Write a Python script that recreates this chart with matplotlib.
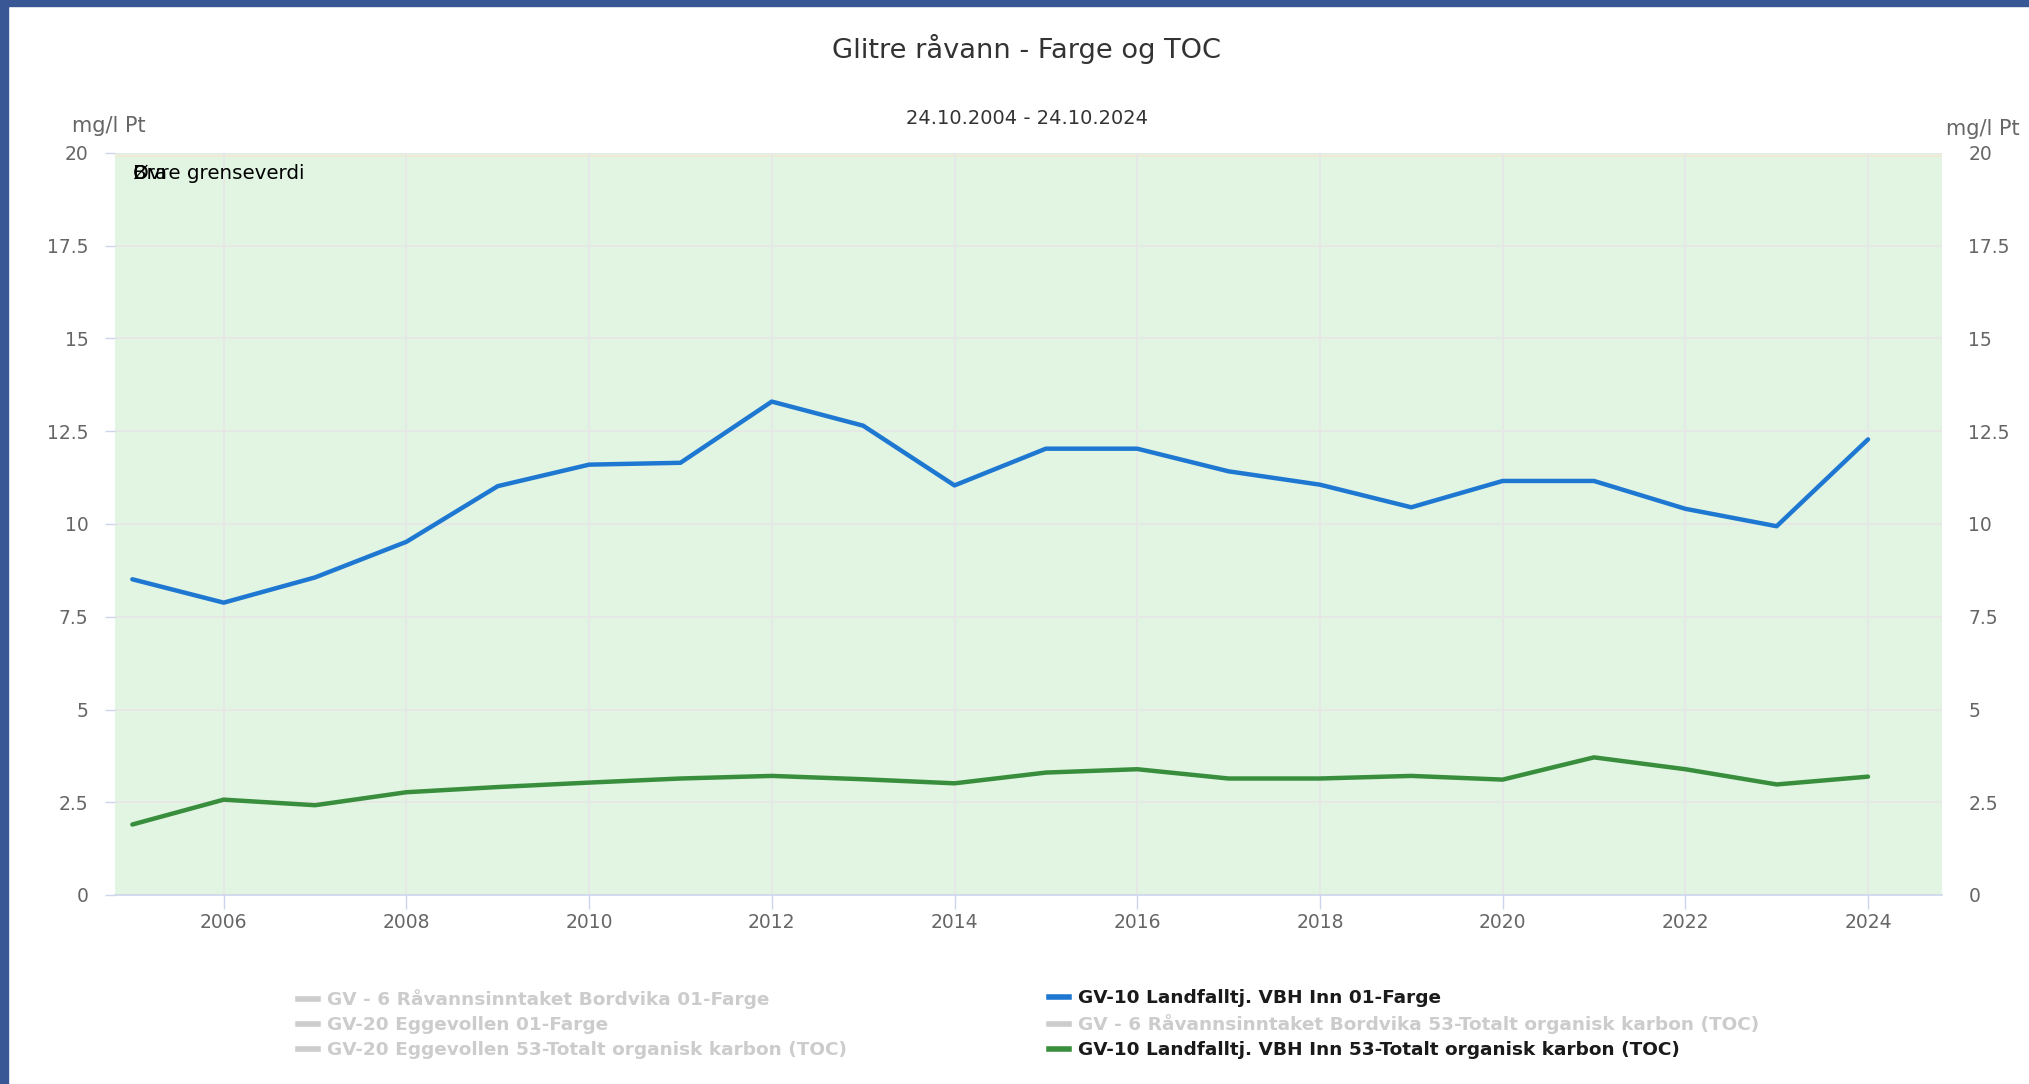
import matplotlib.pyplot as plt
from matplotlib.lines import Line2D

# Årsmiddel, plassert ved 1. januar hvert år
years = list(range(2005, 2025))
farge_gv10 = [8.51, 7.88, 8.56, 9.52, 11.02, 11.60, 11.65, 13.30, 12.65, 11.04,
              12.03, 12.03, 11.42, 11.06, 10.45, 11.16, 11.16, 10.41, 9.94, 12.28]
toc_gv10 = [1.90, 2.57, 2.42, 2.77, 2.91, 3.03, 3.14, 3.21, 3.12, 3.01,
            3.30, 3.39, 3.14, 3.14, 3.21, 3.11, 3.71, 3.39, 2.98, 3.19]

yticks = [0, 2.5, 5, 7.5, 10, 12.5, 15, 17.5, 20]
ytick_labels = ["0", "2.5", "5", "7.5", "10", "12.5", "15", "17.5", "20"]
xticks = list(range(2006, 2025, 2))

legend_col1 = ["GV - 6 Råvannsinntaket Bordvika 01-Farge",
               "GV-20 Eggevollen 01-Farge",
               "GV-20 Eggevollen 53-Totalt organisk karbon (TOC)"]
legend_col2 = ["GV-10 Landfalltj. VBH Inn 01-Farge",
               "GV - 6 Råvannsinntaket Bordvika 53-Totalt organisk karbon (TOC)",
               "GV-10 Landfalltj. VBH Inn 53-Totalt organisk karbon (TOC)"]

blue = "#1e78d2"
green = "#388e3c"
hidden = "#cccccc"
axcol = "#ccd6eb"

plt.rcParams['font.family'] = ['DejaVu Sans']

fig = plt.figure(figsize=(20.29, 10.84), dpi=100)
fig.patch.set_facecolor("white")

# blå ramme venstre og topp
fig.patches.append(plt.Rectangle((0, 0), 8 / 2029, 1, transform=fig.transFigure,
                                 color="#3a5795", zorder=10))
fig.patches.append(plt.Rectangle((0, 1 - 6 / 1084), 1, 6 / 1084, transform=fig.transFigure,
                                 color="#3a5795", zorder=10))

ax = fig.add_axes([115 / 2029, 1 - 895 / 1084, (1942 - 115) / 2029, (895 - 153) / 1084])
ax.axhspan(0, 20, color="#e1f5e2", zorder=0.2, lw=0)
ax.axhline(19.93, color="#efe9d6", lw=1.5, zorder=0.3)

ax.plot(years, farge_gv10, color=blue, lw=3.2, solid_capstyle="round", zorder=3)
ax.plot(years, toc_gv10, color=green, lw=3.2, solid_capstyle="round", zorder=3)

ax.set_xlim(2004.81, 2024.81)
ax.set_ylim(0, 20)
ax.set_xticks(xticks)
ax.set_yticks(yticks)
ax.set_yticklabels(ytick_labels)
ax.grid(True, color="#e6e6e6", lw=1.2, zorder=0.5)
ax.set_axisbelow(True)
for s in ["top", "left", "right"]:
    ax.spines[s].set_visible(False)
ax.spines["bottom"].set_color(axcol)
ax.spines["bottom"].set_linewidth(1.2)
ax.tick_params(axis="x", length=10, width=1, color=axcol, labelsize=13.5,
               labelcolor="#666666", pad=3)
ax.tick_params(axis="y", length=7, width=1, color=axcol, labelsize=13.5,
               labelcolor="#666666", pad=12, right=False, labelright=True)

ax.text(0.01, 0.972, "Bra", transform=ax.transAxes, fontsize=14.3, color="black",
        va="center", ha="left")
ax.text(0.01, 0.972, "Øvre grenseverdi", transform=ax.transAxes, fontsize=14.3,
        color="black", va="center", ha="left")

fig.text(1027 / 2029, 1 - 49 / 1084, "Glitre råvann - Farge og TOC", ha="center",
         va="center", fontsize=19.6, color="#333333")
fig.text(1027 / 2029, 1 - 119 / 1084, "24.10.2004 - 24.10.2024", ha="center",
         va="center", fontsize=14, color="#333333")
fig.text(72 / 2029, 1 - 126 / 1084, "mg/l Pt", ha="left", va="center",
         fontsize=15, color="#666666")
fig.text(1946 / 2029, 1 - 129 / 1084, "mg/l Pt", ha="left", va="center",
         fontsize=15, color="#666666")

h1 = [Line2D([], [], color=hidden, lw=4) for _ in legend_col1]
h2 = [Line2D([], [], color=blue, lw=4), Line2D([], [], color=hidden, lw=4),
      Line2D([], [], color=green, lw=4)]
for handles, labels, colors, x0 in [
        (h1, legend_col1, [hidden] * 3, 298),
        (h2, legend_col2, ["#1a1a1a", hidden, "#1a1a1a"], 1049)]:
    leg = fig.legend(handles, labels, loc="upper left",
                     bbox_to_anchor=(x0 / 2029, 1 - 989 / 1084), frameon=False,
                     prop={"weight": "bold", "size": 13.3}, labelcolor=colors,
                     handlelength=1.1, handletextpad=0.45, labelspacing=0.38,
                     borderaxespad=0, borderpad=0)

fig.savefig("out.png", dpi=100)
